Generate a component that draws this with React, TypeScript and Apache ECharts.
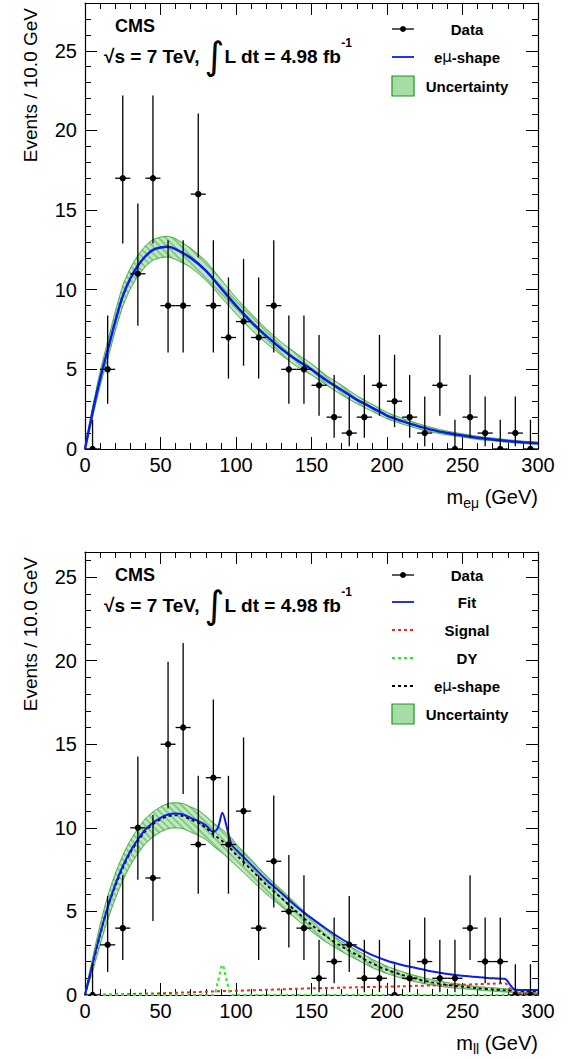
import React, { useEffect, useRef } from "react";
import * as echarts from "echarts";

const binCenters = [5,15,25,35,45,55,65,75,85,95,105,115,125,135,145,155,165,175,185,195,205,215,225,235,245,255,265,275,285,295];
const topCounts = [0,5,17,11,17,9,9,16,9,7,8,7,9,5,5,4,2,1,2,4,3,2,1,4,0,2,1,0,1,0];
const botCounts = [0,3,4,10,7,15,16,9,13,9,11,4,8,5,4,1,2,3,1,1,0,1,2,1,1,4,2,2,0,0];
// Garwood 68% intervals [low, high] by count
const garwood: Record<number, [number, number]> = {
  0: [0, 1.84], 1: [0.83, 2.3], 2: [1.29, 2.64], 3: [1.63, 2.92], 4: [1.91, 3.16], 5: [2.16, 3.38],
  7: [2.58, 3.77], 8: [2.77, 3.94], 9: [2.94, 4.11], 10: [3.11, 4.26], 11: [3.27, 4.41],
  13: [3.58, 4.68], 15: [3.85, 4.94], 16: [3.98, 5.06], 17: [4.1, 5.2],
};

const topX = [0,5,10,15,20,25,30,35,40,45,50,55,60,70,80,90,100,110,120,130,140,150,160,170,180,190,200,210,220,230,240,250,260,270,280,290,300];
const topShape = [0,2.3,4.4,6.2,8.0,9.6,10.7,11.5,12.1,12.5,12.65,12.7,12.55,12.0,11.2,10.1,9.0,8.0,7.1,6.3,5.6,5.0,4.3,3.7,3.1,2.6,2.1,1.75,1.45,1.2,1.0,0.85,0.7,0.6,0.5,0.42,0.36];
const topBandHalf = [0.1,0.3,0.45,0.55,0.6,0.65,0.65,0.65,0.65,0.65,0.65,0.65,0.65,0.6,0.6,0.55,0.5,0.5,0.45,0.4,0.4,0.35,0.3,0.3,0.25,0.22,0.2,0.18,0.16,0.14,0.12,0.1,0.1,0.09,0.08,0.07,0.06];

const botX = [0,5,10,15,20,25,30,35,40,45,50,55,60,65,70,75,80,85,88,91,94,97,100,110,120,130,140,150,160,170,180,190,200,210,220,230,240,250,260,270,278,282,285,290,300];
const botShape = [0,1.8,3.6,5.2,6.5,7.6,8.5,9.2,9.8,10.2,10.5,10.7,10.75,10.7,10.5,10.3,10.0,9.6,9.4,9.2,8.95,8.7,8.4,7.5,6.6,5.8,5.0,4.2,3.5,2.9,2.4,1.9,1.5,1.2,0.95,0.75,0.6,0.5,0.4,0.33,0.28,0.26,0.25,0.22,0.2];
const botFit = [0,1.85,3.65,5.25,6.6,7.7,8.6,9.3,9.9,10.3,10.6,10.8,10.85,10.8,10.6,10.4,10.15,9.75,10.0,10.9,10.0,9.0,8.7,7.8,6.9,6.1,5.3,4.6,3.95,3.35,2.85,2.4,2.05,1.8,1.6,1.4,1.25,1.15,1.07,1.0,0.97,0.55,0.3,0.3,0.3];
const botSignal = [0,0.01,0.02,0.03,0.04,0.05,0.06,0.07,0.08,0.09,0.1,0.12,0.13,0.15,0.16,0.18,0.2,0.21,0.22,0.23,0.24,0.24,0.25,0.28,0.31,0.34,0.37,0.4,0.42,0.44,0.46,0.48,0.5,0.52,0.55,0.57,0.6,0.62,0.65,0.68,0.7,0.3,0.1,0.1,0.1];
const botDY = [0,0,0,0,0,0,0,0,0,0,0,0,0,0,0,0,0,0,0.8,1.8,0.8,0,0,0,0,0,0,0,0,0,0,0,0,0,0,0,0,0,0,0,0,0,0,0,0];
const botBandHalf = [0.1,0.4,0.6,0.7,0.75,0.75,0.75,0.75,0.75,0.75,0.75,0.75,0.75,0.75,0.75,0.75,0.7,0.7,0.7,0.7,0.7,0.7,0.65,0.6,0.55,0.5,0.45,0.4,0.35,0.3,0.28,0.25,0.22,0.2,0.18,0.16,0.14,0.12,0.1,0.1,0.1,0.1,0.1,0.1,0.1];

const xTicks = ["0","50","100","150","200","250","300"];
const FONT = "Liberation Sans, Arial, sans-serif";

function zip(xs: number[], ys: number[]) { return xs.map((x, i) => [x, ys[i]]); }

export default function App() {
  const ref = useRef<HTMLDivElement>(null);
  useEffect(() => {
    document.body.style.margin = "0";
    const chart = echarts.init(ref.current!, undefined, { renderer: "svg" });
    const grids = [
      { left: 85, right: 30, top: 3, height: 446 },
      { left: 85, right: 30, top: 552, height: 443 },
    ];
    const yMax = [28, 26.5];
    const xAxis: any[] = [];
    const yAxis: any[] = [];
    grids.forEach((_, g) => {
      [0, 1].forEach((m) => {
        xAxis.push({
          type: "value", gridIndex: g, min: 0, max: 300, interval: 50, position: m ? "top" : "bottom",
          axisLine: { show: true, onZero: false, lineStyle: { color: "#000", width: 1.2 } },
          axisTick: { inside: true, length: 12, lineStyle: { color: "#000" } },
          minorTick: { show: true, splitNumber: 5, length: 6, lineStyle: { color: "#000" } },
          splitLine: { show: false },
          axisLabel: m ? { show: false } : { show: true, fontSize: 20, color: "#000", fontFamily: FONT, margin: 6,
            formatter: (v: number) => xTicks[Math.round(v / 50)] ?? "" },
        });
        yAxis.push({
          type: "value", gridIndex: g, min: 0, max: yMax[g], interval: 5, position: m ? "right" : "left",
          axisLine: { show: true, onZero: false, lineStyle: { color: "#000", width: 1.2 } },
          axisTick: { inside: true, length: 12, lineStyle: { color: "#000" } },
          minorTick: { show: true, splitNumber: 5, length: 6, lineStyle: { color: "#000" } },
          splitLine: { show: false },
          axisLabel: m ? { show: false } : { show: true, fontSize: 20, color: "#000", fontFamily: FONT, margin: 8,
            showMaxLabel: false },
        });
      });
    });
    const ax = (g: number) => ({ xAxisIndex: g * 2, yAxisIndex: g * 2 });
    const band = (g: number, xs: number[], c: number[], h: number[]) => ({
      type: "custom", ...ax(g), z: 1, clip: true,
      data: [0],
      renderItem: (_p: any, api: any) => {
        const up = xs.map((x, i) => api.coord([x, c[i] + h[i]]));
        const lo = xs.map((x, i) => api.coord([x, Math.max(0, c[i] - h[i])])).reverse();
        return { type: "polygon", shape: { points: up.concat(lo), smooth: 0.2 },
          style: { fill: "rgba(140,215,140,0.55)", stroke: "rgba(40,160,40,0.5)", lineWidth: 1,
            decal: { symbol: "rect", dashArrayX: [1, 0], dashArrayY: [2, 3], rotation: Math.PI / 4, color: "rgba(20,140,20,0.35)" } } };
      },
    });
    const dataSeries = (g: number, counts: number[]) => ({
      type: "custom", ...ax(g), z: 10, clip: true,
      data: binCenters.map((x, i) => [x, counts[i], counts[i] - garwood[counts[i]][0], counts[i] + garwood[counts[i]][1]]),
      renderItem: (_p: any, api: any) => {
        const x = api.value(0), y = api.value(1);
        const c = api.coord([x, y]);
        const l = api.coord([x - 5, y]), r = api.coord([x + 5, y]);
        const lo = api.coord([x, api.value(2)]), hi = api.coord([x, api.value(3)]);
        const st = { stroke: "#000", lineWidth: 1.3 };
        return { type: "group", children: [
          { type: "line", shape: { x1: l[0], y1: c[1], x2: r[0], y2: c[1] }, style: st },
          { type: "line", shape: { x1: c[0], y1: lo[1], x2: c[0], y2: hi[1] }, style: st },
          { type: "circle", shape: { cx: c[0], cy: c[1], r: 3.2 }, style: { fill: "#000" } },
        ] };
      },
    });
    const line = (g: number, xs: number[], ys: number[], color: string, type: any, width: number, z = 5) => ({
      type: "line", ...ax(g), data: zip(xs, ys), symbol: "none", smooth: 0.3, z,
      lineStyle: { color, type, width },
    });
    const series: any[] = [
      band(0, topX, topShape, topBandHalf),
      line(0, topX, topShape, "#0a1cf0", "solid", 2.5),
      dataSeries(0, topCounts),
      band(1, botX, botShape, botBandHalf),
      line(1, botX, botSignal, "#ff2020", [3, 3], 2),
      line(1, botX, botDY, "#22ee22", [3, 3], 2),
      line(1, botX, botShape, "#000", [3, 3], 1.8),
      line(1, botX, botFit, "#0a1cf0", "solid", 2),
      dataSeries(1, botCounts),
    ];
    const bold = { fontFamily: FONT, fontWeight: "bold", fill: "#000" } as any;
    const gfx: any[] = [];
    const header = (y0: number) => {
      gfx.push({ type: "text", left: 115, top: y0 + 17, style: { ...bold, text: "CMS", fontSize: 18 } });
      gfx.push({ type: "text", left: 104, top: y0 + 37, style: { ...bold, fontSize: 19,
        text: "√s = 7 TeV, {i|∫}L dt = 4.98 fb{s|-1}",
        rich: { i: { fontSize: 38, fontWeight: "normal", fontFamily: "DejaVu Sans", verticalAlign: "middle" }, s: { fontSize: 12, fontWeight: "bold", verticalAlign: "top", padding: [0, 0, 10, 0] } } } });
    };
    header(0);
    header(549);
    const legLine = (y: number, color: string, dashed: boolean, dot = false) => {
      gfx.push({ type: "line", shape: { x1: 392, y1: y, x2: 414, y2: y }, style: { stroke: color, lineWidth: dot ? 1.3 : 1.8, lineDash: dashed ? [3, 3] : null } });
      if (dot) gfx.push({ type: "circle", shape: { cx: 403, cy: y, r: 3 }, style: { fill: "#000" } });
    };
    const legText = (y: number, t: string) =>
      gfx.push({ type: "text", x: 467, y, style: { ...bold, text: t, fontSize: 15, align: "center", verticalAlign: "middle",
        rich: { m: { fontFamily: "DejaVu Sans", fontWeight: "normal", fontSize: 15 } } } });
    const legBox = (y: number) => {
      gfx.push({ type: "rect", shape: { x: 392, y: y - 10, width: 22, height: 20 }, style: { fill: "#a6dca6", stroke: "#1a9a1a", lineWidth: 1.2 } });
    };
    legLine(29, "#000", false, true); legText(29, "Data");
    legLine(57, "#0a1cf0", false); legText(57, "e{m|μ}-shape");
    legBox(86); legText(86, "Uncertainty");
    const b = 549;
    legLine(b + 26, "#000", false, true); legText(b + 26, "Data");
    legLine(b + 53, "#0a1cf0", false); legText(b + 53, "Fit");
    legLine(b + 81, "#ff2020", true); legText(b + 81, "Signal");
    legLine(b + 109, "#22ee22", true); legText(b + 109, "DY");
    legLine(b + 137, "#000", true); legText(b + 137, "e{m|μ}-shape");
    legBox(b + 165); legText(b + 165, "Uncertainty");
    [8, 557].forEach((y) => gfx.push({ type: "text", x: 30, y, rotation: Math.PI / 2,
      style: { text: "Events / 10.0 GeV", fontFamily: FONT, fontSize: 19, fill: "#000", align: "right", verticalAlign: "middle" } }));
    gfx.push({ type: "text", x: 538, y: 497, style: { text: "m{s|eμ} (GeV)", fontFamily: FONT, fontSize: 20, fill: "#000", align: "right", verticalAlign: "middle",
      rich: { s: { fontSize: 14, verticalAlign: "bottom", padding: [12, 0, 0, 0], fontFamily: FONT } } } });
    gfx.push({ type: "text", x: 538, y: 1043, style: { text: "m{s|ll} (GeV)", fontFamily: FONT, fontSize: 20, fill: "#000", align: "right", verticalAlign: "middle",
      rich: { s: { fontSize: 14, verticalAlign: "bottom", padding: [12, 0, 0, 0], fontFamily: FONT } } } });

    chart.setOption({ animation: false, backgroundColor: "#fff", grid: grids, xAxis, yAxis, series, graphic: gfx });
    return () => chart.dispose();
  }, []);
  return <div ref={ref} style={{ width: 568, height: 1059 }} />;
}
